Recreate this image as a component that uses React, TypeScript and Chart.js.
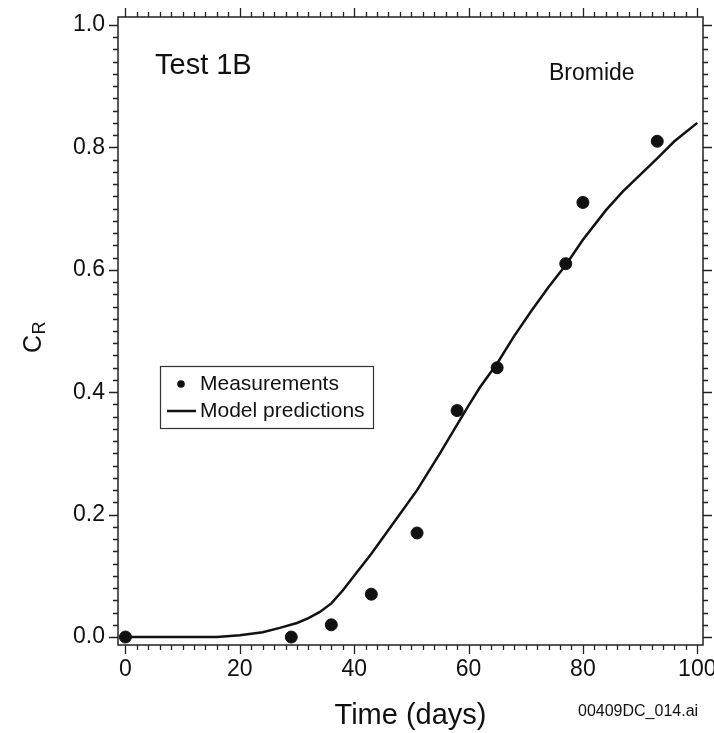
import React, { useEffect, useRef } from "react";
import { Chart, registerables } from "chart.js";

Chart.register(...registerables);

// ---- data ----
const measurementDays = [0, 29, 36, 43, 51, 58, 65, 77, 80, 93];
const measurementValues = [0, 0, 0.02, 0.07, 0.17, 0.37, 0.44, 0.61, 0.71, 0.81];

const modelDays = [0, 10, 16, 20, 24, 27, 30, 32, 34, 36, 38, 40, 43, 47, 51, 55, 58, 60, 62, 65, 68, 71, 74, 77, 80, 84, 87, 90, 93, 96, 100];
const modelValues = [0, 0, 0, 0.003, 0.008, 0.015, 0.023, 0.031, 0.041, 0.055, 0.076, 0.1, 0.136, 0.188, 0.24, 0.3, 0.347, 0.378, 0.408, 0.447, 0.492, 0.533, 0.572, 0.608, 0.649, 0.697, 0.728, 0.755, 0.782, 0.81, 0.84];

const xTickLabels = [0, 20, 40, 60, 80, 100];
const yTickLabels = [0, 0.2, 0.4, 0.6, 0.8, 1.0];

const seriesLabels = ["Measurements", "Model predictions"];
const xTitle = "Time (days)";
const yTitleMain = "C";
const yTitleSub = "R";
const testLabel = "Test 1B";
const speciesLabel = "Bromide";
const fileLabel = "00409DC_014.ai";

const FONT = "'Liberation Sans', Arial, Helvetica, sans-serif";
const INK = "#111111";

const decorPlugin = {
  id: "decor",
  beforeDatasetsDraw(chart: any) {
    const { ctx, chartArea: a, scales } = chart;
    const x = scales.x;
    const y = scales.y;
    ctx.save();
    ctx.strokeStyle = "#222";
    ctx.lineWidth = 1.5;
    ctx.strokeRect(a.left, a.top, a.right - a.left, a.bottom - a.top);
    ctx.lineWidth = 1.3;
    ctx.beginPath();
    for (let i = 0; i <= 50; i++) {
      const px = Math.round(x.getPixelForValue(i * 2)) + 0.5;
      const len = i % 10 === 0 ? 9 : 5;
      ctx.moveTo(px, a.bottom);
      ctx.lineTo(px, a.bottom + len);
      ctx.moveTo(px, a.top);
      ctx.lineTo(px, a.top - len);
    }
    for (let i = 0; i <= 50; i++) {
      const py = Math.round(y.getPixelForValue(i / 50)) + 0.5;
      const len = i % 10 === 0 ? 9 : 5;
      ctx.moveTo(a.left, py);
      ctx.lineTo(a.left - len, py);
      ctx.moveTo(a.right, py);
      ctx.lineTo(a.right + len, py);
    }
    ctx.stroke();
    ctx.restore();
  },
  afterDraw(chart: any) {
    const { ctx, chartArea: a } = chart;
    ctx.save();
    ctx.fillStyle = INK;
    ctx.textBaseline = "middle";
    ctx.textAlign = "left";

    ctx.font = `29px ${FONT}`;
    ctx.fillText(testLabel, 155, 66);
    ctx.font = `23px ${FONT}`;
    ctx.fillText(speciesLabel, 549, 74);
    ctx.font = `16px ${FONT}`;
    ctx.fillText(fileLabel, 578, 712);

    ctx.textAlign = "center";
    ctx.font = `29px ${FONT}`;
    ctx.fillText(xTitle, (a.left + a.right) / 2, 716);

    // y title with subscript
    ctx.save();
    ctx.translate(40.5, 353);
    ctx.rotate(-Math.PI / 2);
    ctx.textAlign = "left";
    ctx.textBaseline = "alphabetic";
    ctx.font = `25px ${FONT}`;
    ctx.fillText(yTitleMain, 0, 0);
    const w = ctx.measureText(yTitleMain).width;
    ctx.font = `18px ${FONT}`;
    ctx.fillText(yTitleSub, w + 0.5, 4.5);
    ctx.restore();

    // legend
    ctx.strokeStyle = "#333";
    ctx.lineWidth = 1.2;
    ctx.strokeRect(160.5, 366.5, 213, 62);
    ctx.beginPath();
    ctx.arc(181, 384, 3.8, 0, Math.PI * 2);
    ctx.fill();
    ctx.lineWidth = 2.5;
    ctx.strokeStyle = INK;
    ctx.beginPath();
    ctx.moveTo(167, 411);
    ctx.lineTo(196, 411);
    ctx.stroke();
    ctx.textAlign = "left";
    ctx.textBaseline = "middle";
    ctx.font = `21px ${FONT}`;
    ctx.fillText(seriesLabels[0], 200, 384);
    ctx.fillText(seriesLabels[1], 200, 411);
    ctx.restore();
  },
};

export default function App() {
  const canvasRef = useRef<HTMLCanvasElement | null>(null);

  useEffect(() => {
    if (!canvasRef.current) return;
    const chart = new Chart(canvasRef.current, {
      type: "scatter",
      data: {
        datasets: [
          {
            label: seriesLabels[0],
            data: measurementDays.map((d, i) => ({ x: d, y: measurementValues[i] })),
            backgroundColor: INK,
            borderColor: INK,
            pointRadius: 6,
            pointHoverRadius: 6,
            clip: false as any,
          },
          {
            label: seriesLabels[1],
            data: modelDays.map((d, i) => ({ x: d, y: modelValues[i] })),
            showLine: true,
            borderColor: INK,
            backgroundColor: INK,
            borderWidth: 2.5,
            pointRadius: 0,
            tension: 0,
          } as any,
        ],
      },
      options: {
        animation: false,
        responsive: false,
        events: [],
        layout: { padding: { top: 17, right: 11, left: 0, bottom: 0 } },
        plugins: {
          legend: { display: false },
          tooltip: { enabled: false },
        },
        scales: {
          x: {
            type: "linear",
            min: -1.3,
            max: 101,
            grid: { display: false, drawTicks: false },
            border: { display: false },
            afterBuildTicks: (s: any) => {
              s.ticks = xTickLabels.map((v) => ({ value: v }));
            },
            afterFit: (s: any) => {
              s.height = 88;
              s.paddingLeft = 0;
              s.paddingRight = 0;
            },
            ticks: {
              padding: 11,
              color: INK,
              font: { family: FONT, size: 23 },
              maxRotation: 0,
              autoSkip: false,
              callback: (v: any) => String(v),
            },
          },
          y: {
            type: "linear",
            min: -0.013,
            max: 1.013,
            grid: { display: false, drawTicks: false },
            border: { display: false },
            afterBuildTicks: (s: any) => {
              s.ticks = yTickLabels.map((v) => ({ value: v }));
            },
            afterFit: (s: any) => {
              s.width = 118;
              s.paddingTop = 0;
              s.paddingBottom = 0;
            },
            ticks: {
              padding: 13,
              color: INK,
              font: { family: FONT, size: 23 },
              autoSkip: false,
              callback: (v: any) => Number(v).toFixed(1),
            },
          },
        },
      },
      plugins: [decorPlugin],
    });
    return () => chart.destroy();
  }, []);

  return (
    <div style={{ position: "fixed", left: 0, top: 0, width: 714, height: 733, background: "#fff" }}>
      <canvas ref={canvasRef} width={714} height={733} style={{ display: "block" }} />
    </div>
  );
}
